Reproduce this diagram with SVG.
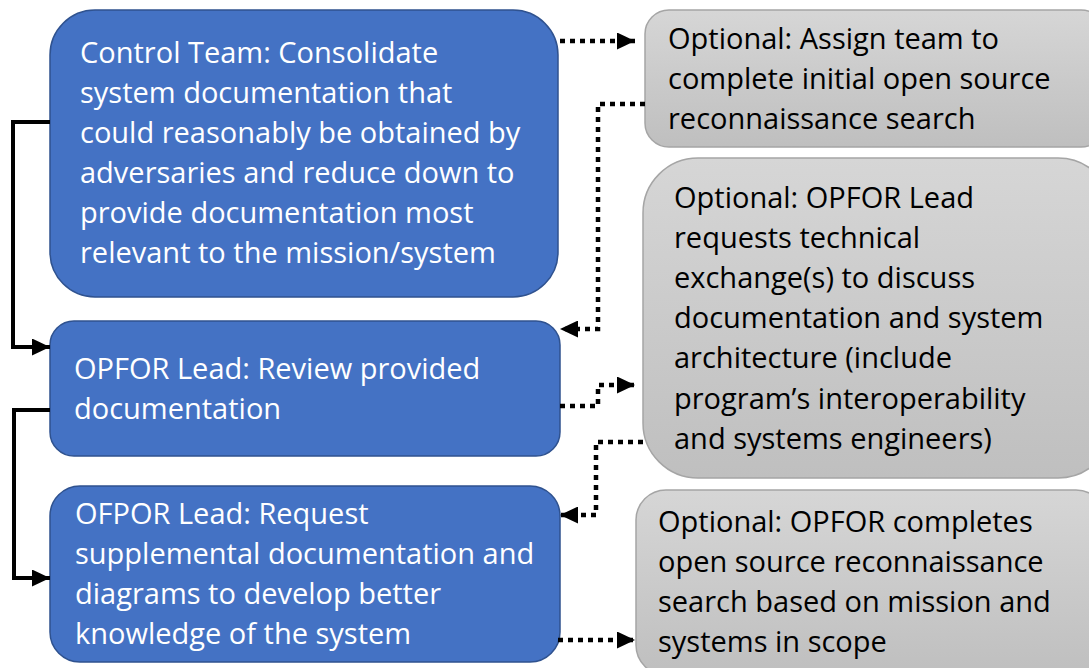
<svg xmlns="http://www.w3.org/2000/svg" width="1089" height="668" viewBox="0 0 1089 668">
<defs>
<linearGradient id="g" x1="0" y1="0" x2="0" y2="1"><stop offset="0" stop-color="#d6d6d6"/><stop offset="1" stop-color="#bfbfbf"/></linearGradient>
<marker id="a" viewBox="0 0 10 10" refX="10" refY="5" markerWidth="18" markerHeight="17" markerUnits="userSpaceOnUse" orient="auto" preserveAspectRatio="none"><path d="M0,0 L10,5 L0,10 z" fill="#000"/></marker>
<style>
.b{fill:#4472c4;stroke:#2f528f;stroke-width:1.5}
.o{fill:url(#g);stroke:#a5a5a5;stroke-width:1.5}
.tw{font-family:"Open Sans","Noto Sans",sans-serif;font-size:29px;fill:#fff}
.tk{font-family:"Open Sans","Noto Sans",sans-serif;font-size:29px;fill:#000}
.s{fill:none;stroke:#000;stroke-width:4;marker-end:url(#a)}
.d{fill:none;stroke:#000;stroke-width:4.5;stroke-dasharray:5 5;marker-end:url(#a)}
</style>
</defs>
<rect width="1089" height="668" fill="#fff"/>
<g id="n1"><rect class="b" x="50" y="10" width="508" height="287" rx="45"/>
<text class="tw" x="80"><tspan x="80" y="63">Control Team: Consolidate</tspan><tspan x="80" y="103">system documentation that</tspan><tspan x="80" y="143">could reasonably be obtained by</tspan><tspan x="80" y="183">adversaries and reduce down to</tspan><tspan x="80" y="223">provide documentation most</tspan><tspan x="80" y="263">relevant to the mission/system</tspan></text></g>
<g id="n2"><rect class="b" x="50" y="321" width="510" height="135" rx="24"/>
<text class="tw"><tspan x="74" y="379">OPFOR Lead: Review provided</tspan><tspan x="74" y="419">documentation</tspan></text></g>
<g id="n3"><rect class="b" x="50" y="486" width="510" height="176" rx="30"/>
<text class="tw"><tspan x="75" y="524">OFPOR Lead: Request</tspan><tspan x="75" y="564">supplemental documentation and</tspan><tspan x="75" y="604">diagrams to develop better</tspan><tspan x="75" y="644">knowledge of the system</tspan></text></g>
<g id="o1"><rect class="o" x="645" y="10" width="460" height="137" rx="24"/>
<text class="tk"><tspan x="668" y="49">Optional: Assign team to</tspan><tspan x="668" y="89">complete initial open source</tspan><tspan x="668" y="129">reconnaissance search</tspan></text></g>
<g id="o2"><rect class="o" x="643" y="158" width="470" height="320" rx="55"/>
<text class="tk"><tspan x="674" y="208">Optional: OPFOR Lead</tspan><tspan x="674" y="248">requests technical</tspan><tspan x="674" y="288">exchange(s) to discuss</tspan><tspan x="674" y="328">documentation and system</tspan><tspan x="674" y="368">architecture (include</tspan><tspan x="674" y="409">program’s interoperability</tspan><tspan x="674" y="449">and systems engineers)</tspan></text></g>
<g id="o3"><rect class="o" x="636" y="490" width="470" height="185" rx="30"/>
<text class="tk"><tspan x="658" y="532">Optional: OPFOR completes</tspan><tspan x="658" y="572">open source reconnaissance</tspan><tspan x="658" y="612">search based on mission and</tspan><tspan x="658" y="652">systems in scope</tspan></text></g>
<g id="connectors">
<path class="s" d="M50,122 H13 V347 H50"/>
<path class="s" d="M50,410 H14 V578 H50"/>
<path class="d" d="M560,41 H635"/>
<path class="d" d="M645,104 H598 V329 H560"/>
<path class="d" d="M560,406 H598 V385 H635"/>
<path class="d" d="M643,442 H596 V515 H560"/>
<path class="d" d="M558,640 H635"/>
</g>
</svg>
